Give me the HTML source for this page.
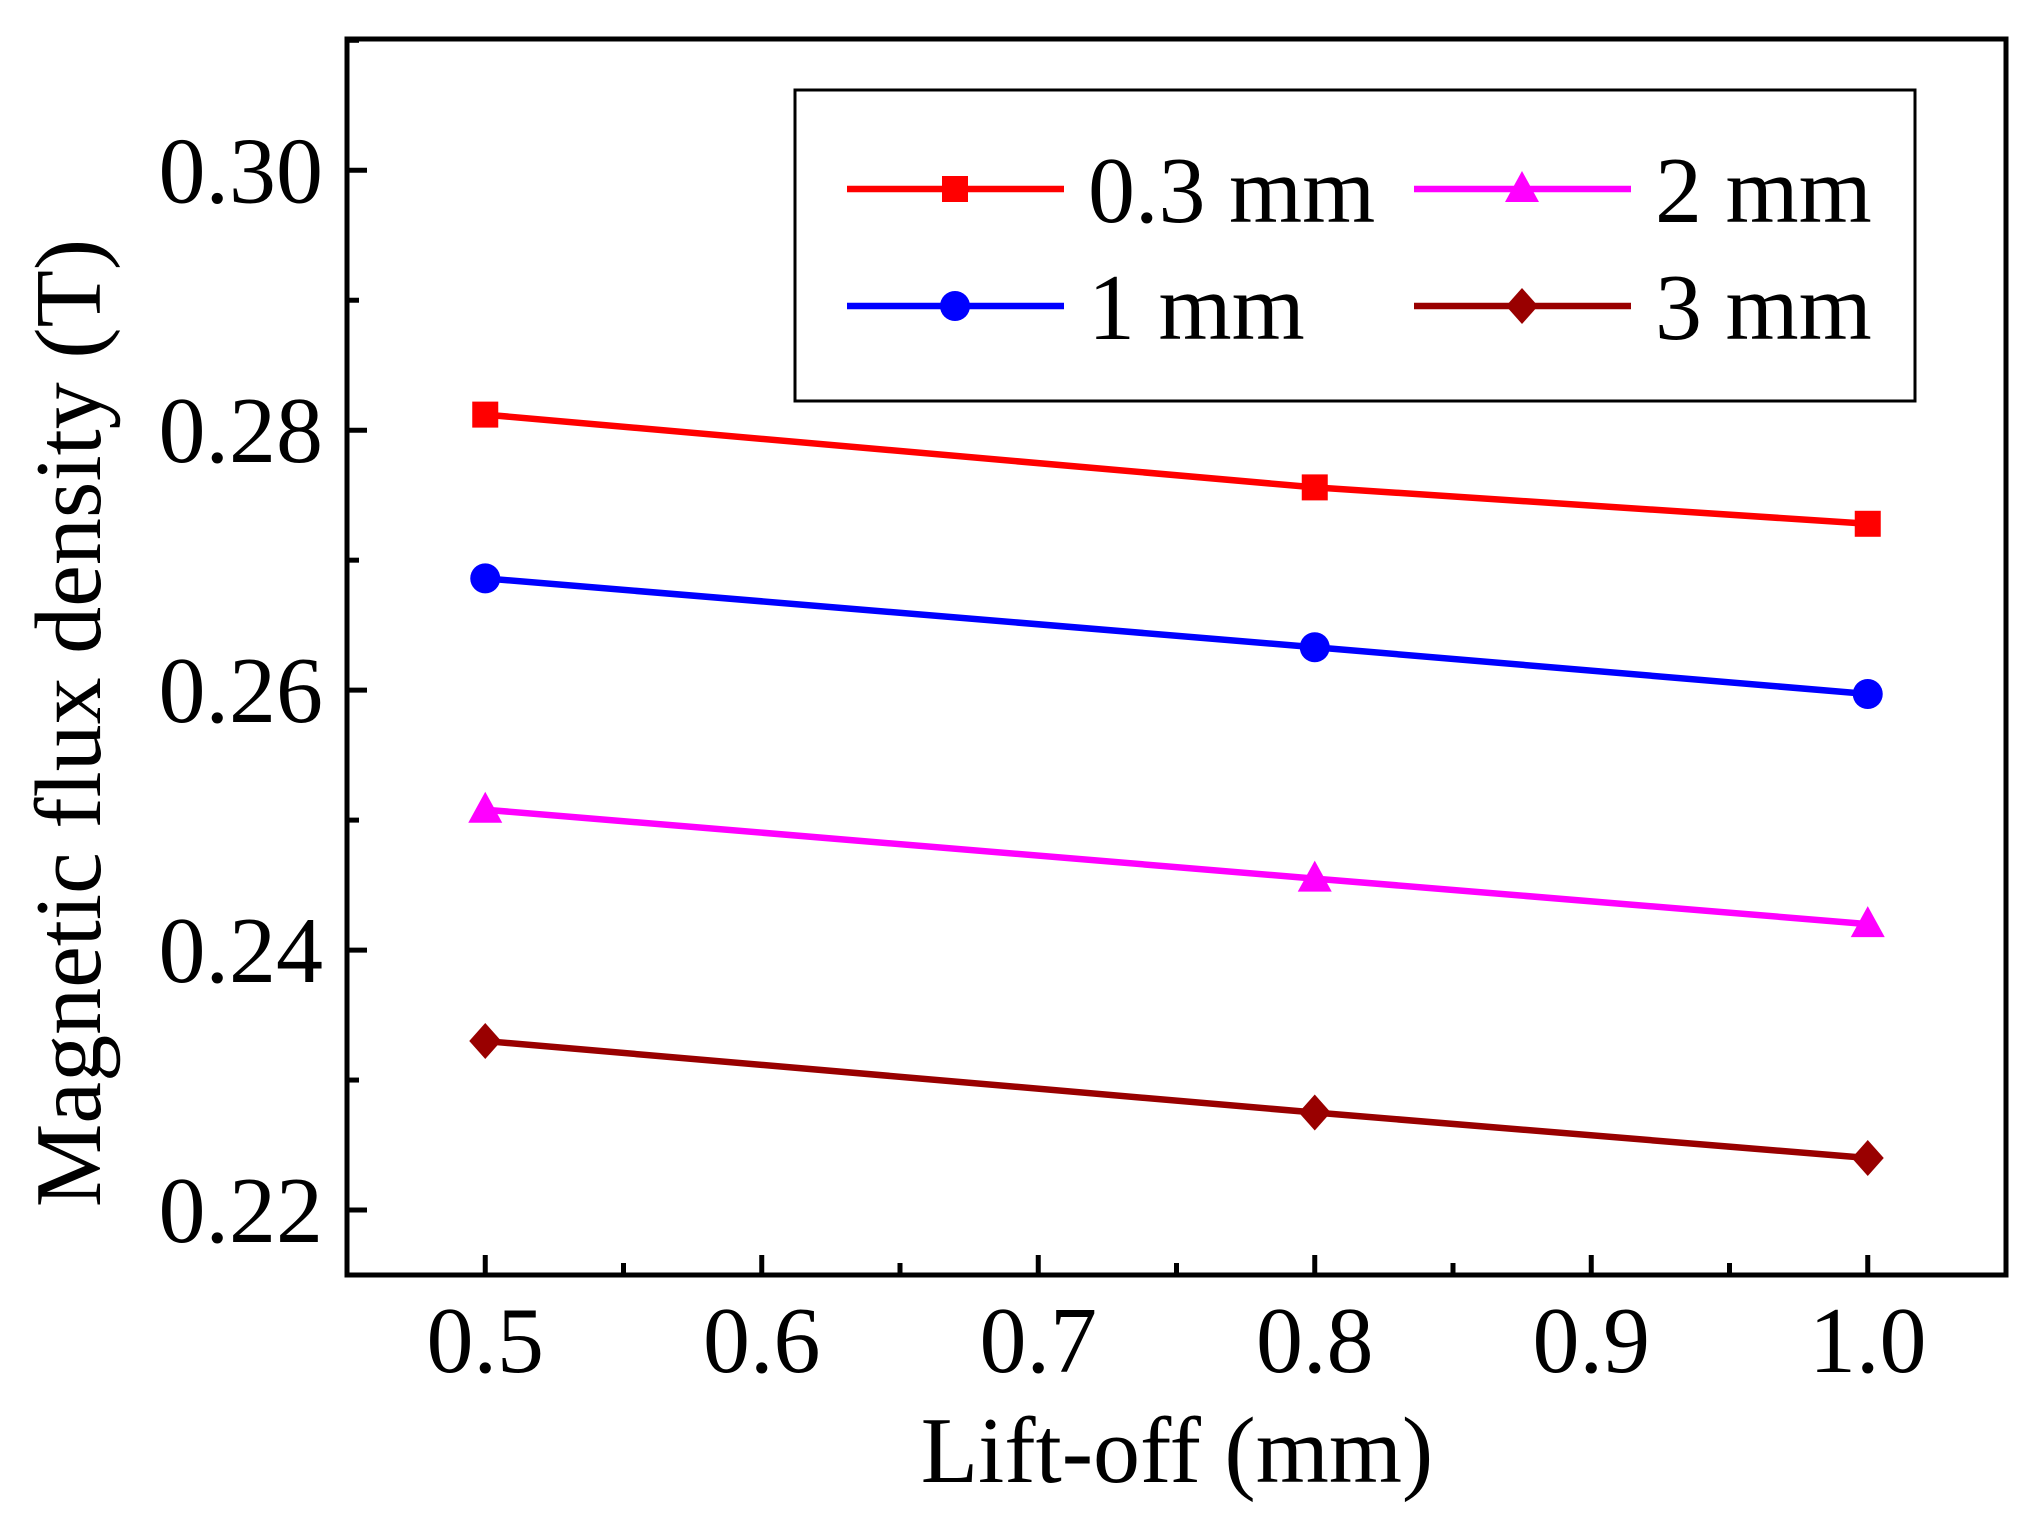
<!DOCTYPE html>
<html><head><meta charset="utf-8"><style>html,body{margin:0;padding:0;background:#fff}svg{display:block}text{font-family:"Liberation Serif",serif;fill:#000}</style></head>
<body>
<svg id="chart" width="2043" height="1528" viewBox="0 0 2043 1528" xmlns="http://www.w3.org/2000/svg"></svg>
<script>
const xValues = [0.5, 0.8, 1.0];
const s03 = [0.2812, 0.2756, 0.2728];
const s1 = [0.2686, 0.2633, 0.2597];
const s2 = [0.2508, 0.2455, 0.2420];
const s3 = [0.2330, 0.2275, 0.2240];
const xTicks = ["0.5","0.6","0.7","0.8","0.9","1.0"];
const yTicks = ["0.22","0.24","0.26","0.28","0.30"];
const seriesNames = ["0.3 mm","1 mm","2 mm","3 mm"];

const L=347,R=2006,T=39,B=1275;
const X0=0.45,X1=1.05,Y0=0.215,Y1=0.3101;
const sx=v=>L+(v-X0)/(X1-X0)*(R-L);
const sy=v=>B-(v-Y0)/(Y1-Y0)*(B-T);
const NS="http://www.w3.org/2000/svg";
const svg=document.getElementById('chart');
function mk(tag,attrs,parent){const e=document.createElementNS(NS,tag);for(const k in attrs)e.setAttribute(k,attrs[k]);(parent||svg).appendChild(e);return e;}

const ax=mk('g',{});


xTicks.forEach((t,i)=>{const v=parseFloat(t);const x=sx(v);
 mk('line',{x1:x,x2:x,y1:B,y2:B-20,stroke:'#000','stroke-width':5},ax);
 if(i<xTicks.length-1){const xm=sx(v+0.05);mk('line',{x1:xm,x2:xm,y1:B,y2:B-12,stroke:'#000','stroke-width':5},ax);}
 const tx=mk('text',{x:x,y:1372,'font-size':94,'text-anchor':'middle'},ax);tx.textContent=t;
 
 
});
yTicks.forEach((t,i)=>{const v=parseFloat(t);const y=sy(v);
 mk('line',{x1:L,x2:L+20,y1:y,y2:y,stroke:'#000','stroke-width':5},ax);
 const ym=sy(v+0.01);mk('line',{x1:L,x2:L+12,y1:ym,y2:ym,stroke:'#000','stroke-width':5},ax);
 const tx=mk('text',{x:323,y:y+32,'font-size':94,'text-anchor':'end'},ax);tx.textContent=t;
 
 
});
const frame=mk('rect',{x:L,y:T,width:R-L,height:B-T,fill:'none',stroke:'#000','stroke-width':5});



const xt=mk('text',{x:1177,y:1482,'font-size':94,'text-anchor':'middle'});xt.textContent='Lift-off (mm)';


const yt=mk('text',{x:0,y:0,'font-size':94,'text-anchor':'middle',transform:'translate(100,723) rotate(-90)'});yt.textContent='Magnetic flux density (T)';



function marker(type,x,y,c,p){
 if(type==='square')return mk('rect',{x:x-13,y:y-13,width:26,height:26,fill:c},p);
 if(type==='circle')return mk('circle',{cx:x,cy:y,r:15,fill:c},p);
 if(type==='tri')return mk('polygon',{points:`${x},${y-18} ${x+17},${y+13} ${x-17},${y+13}`,fill:c},p);
 return mk('polygon',{points:`${x},${y-18} ${x+16},${y} ${x},${y+18} ${x-16},${y}`,fill:c},p);
}
const series=[[s03,'#ff0000','square'],[s1,'#0000ff','circle'],[s2,'#ff00ff','tri'],[s3,'#990000','diamond']];
series.forEach(([vals,c,m],i)=>{
 const g=mk('g',{});
 
 
 mk('polyline',{points:vals.map((v,j)=>sx(xValues[j])+','+sy(v)).join(' '),fill:'none',stroke:c,'stroke-width':6.5},g);
 vals.forEach((v,j)=>{const mm=marker(m,sx(xValues[j]),sy(v),c,g);
  
  });
});

const lg=mk('g',{});


mk('rect',{x:795,y:90,width:1120,height:311,fill:'#fff',stroke:'#000','stroke-width':3},lg);
const pos=[[847,189],[847,306],[1414,189],[1414,306]];
series.forEach(([vals,c,m],i)=>{
 const [x,y]=pos[i];
 const e=mk('g',{},lg);
 
 
 mk('line',{x1:x,x2:x+217,y1:y,y2:y,stroke:c,'stroke-width':6.5},e);
 marker(m,x+108,y,c,e);
 const t=mk('text',{x:x+241,y:y+33,'font-size':94},e);t.textContent=seriesNames[i];
});
</script>
</body></html>
